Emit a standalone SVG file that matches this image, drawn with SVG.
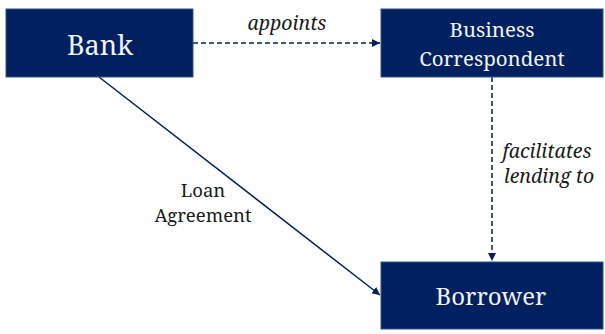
<svg xmlns="http://www.w3.org/2000/svg" width="605" height="334" viewBox="0 0 605 334">
<style>
.box{fill:#002060;stroke:#2f528f;stroke-width:1}
.bt{font-family:'Noto Serif','Liberation Serif','DejaVu Serif',serif;fill:#f2f2f2;text-anchor:middle}
.lbl{font-family:'Noto Serif','Liberation Serif','DejaVu Serif',serif;fill:#1a1a1a;text-anchor:middle}
.it{font-style:italic}
.ln{stroke:#002060;stroke-width:1.5;fill:none}
.dash{stroke-dasharray:5 3}
</style>
<defs>
<marker id="ah" viewBox="0 0 10 10" refX="10" refY="5" markerWidth="8" markerHeight="8" markerUnits="userSpaceOnUse" orient="auto">
<path d="M0,0 L10,5 L0,10 z" fill="#002060"/>
</marker>
</defs>
<rect width="605" height="334" fill="#ffffff"/>
<g id="connectors">
<line class="ln dash" x1="193" y1="43" x2="380" y2="43" marker-end="url(#ah)"/>
<line class="ln dash" x1="492" y1="77" x2="492" y2="261" marker-end="url(#ah)"/>
<line class="ln" x1="99" y1="77" x2="380" y2="295" marker-end="url(#ah)"/>
<text class="lbl it" x="287" y="30" font-size="19.5">appoints</text>
<text class="lbl it" x="547" y="158" font-size="19.5">facilitates</text>
<text class="lbl it" x="549" y="183" font-size="19.5">lending to</text>
<text class="lbl" x="203" y="197" font-size="18.5">Loan</text>
<text class="lbl" x="203" y="222" font-size="18.5">Agreement</text>
</g>
<g id="bank">
<rect class="box" x="6" y="9" width="187" height="68"/>
<text class="bt" x="100" y="55" font-size="27">Bank</text>
</g>
<g id="business-correspondent">
<rect class="box" x="381" y="9" width="222" height="68"/>
<text class="bt" x="492" y="37" font-size="20.5">Business</text>
<text class="bt" x="492" y="66" font-size="20.5">Correspondent</text>
</g>
<g id="borrower">
<rect class="box" x="381" y="262" width="222" height="67"/>
<text class="bt" x="491" y="305" font-size="24">Borrower</text>
</g>
</svg>
